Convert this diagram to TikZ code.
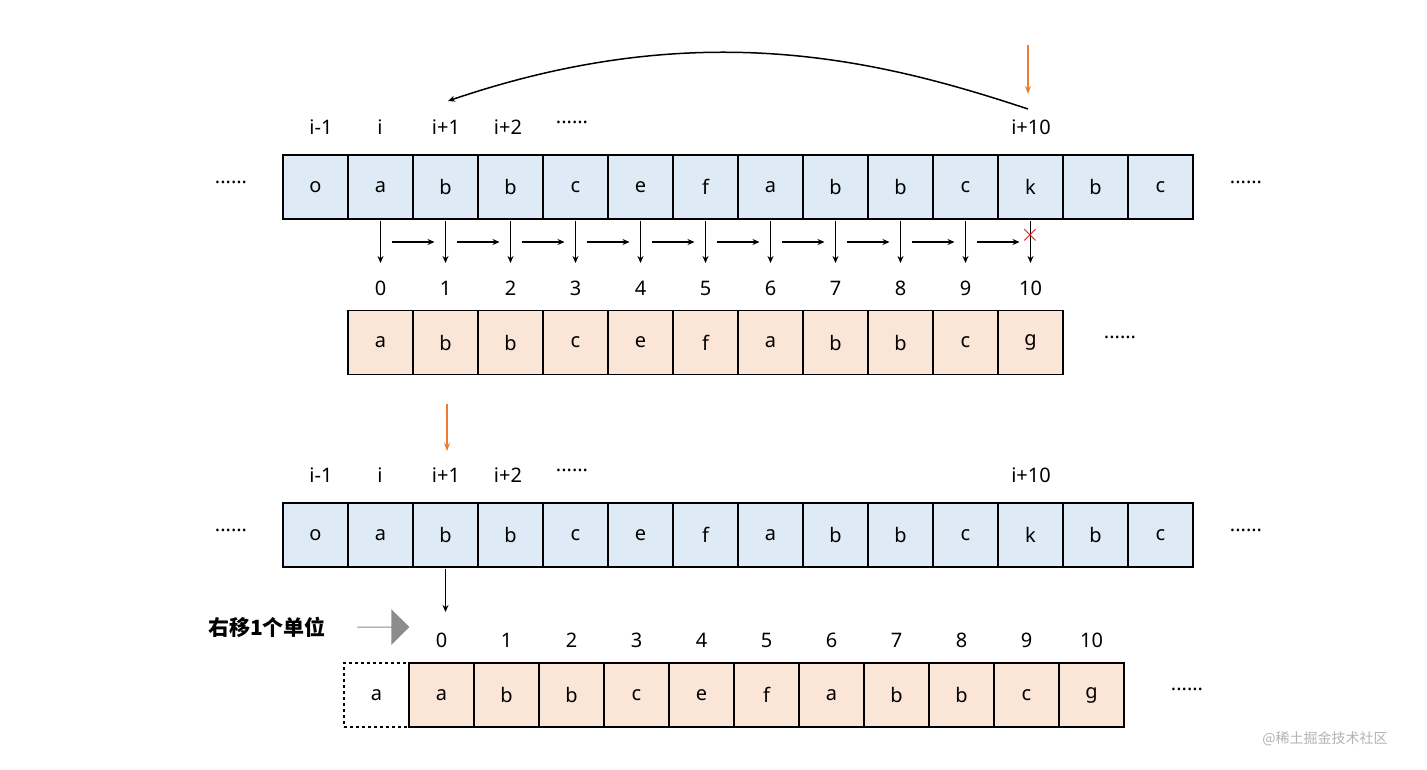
\documentclass[tikz,border=0pt]{standalone}
\usepackage{fontspec}
\setmainfont{Noto Sans}
\newfontfamily\cjk{Noto Sans CJK SC}
\usetikzlibrary{arrows.meta,shapes.arrows}
\definecolor{cblue}{HTML}{DEEBF7}
\definecolor{cpink}{HTML}{FBE5D6}
\definecolor{corange}{HTML}{ED7D31}
\tikzset{
 cell/.style={draw=black,line width=1.3pt,minimum width=65pt,minimum height=64pt,inner sep=0pt,font=\fontsize{20}{20}\selectfont},
 bcell/.style={cell,fill=cblue},
 pcell/.style={cell,fill=cpink},
 lbl/.style={font=\fontsize{20}{20}\selectfont,inner sep=0pt},
 dots/.style={font=\fontsize{20}{20}\selectfont\bfseries,inner sep=0pt},
 arr/.style={-{Stealth[length=7pt,width=6pt]},line width=1.2pt},
 oarr/.style={-{Stealth[length=8pt,width=6pt]},line width=1.2pt,draw=corange},
}
\begin{document}
\begin{tikzpicture}[x=1pt,y=-1pt]
\useasboundingbox (0,0) rectangle (1427,770);
% ---------- top section ----------
\foreach \c [count=\k from 0] in {o,a,b,b,c,e,f,a,b,b,c,k,b,c}
  \node[bcell] (t\k) at (315.5+65*\k,187) {\c};
\foreach \c [count=\k from 0] in {a,b,b,c,e,f,a,b,b,c,g}
  \node[pcell] (p\k) at (380.5+65*\k,342.5) {\c};
\node[dots] (dl1) at (231,182) {......};
\node[dots] (dr1) at (1246,182) {......};
\node[dots] (dp1) at (1120,337) {......};
\node[lbl] (l1) at (321,127) {i-1};
\node[lbl] (l2) at (380,127) {i};
\node[lbl] (l3) at (446,127) {i+1};
\node[lbl] (l4) at (508,127) {i+2};
\node[dots] (l5) at (572,122) {......};
\node[lbl] (l6) at (1031,127) {i+10};
\foreach \k in {0,...,10} {
  \node[lbl] (n\k) at (p\k.center |- 0,288) {\k};
  \coordinate (s\k) at ([yshift=-1pt]t\the\numexpr\k+1\relax.south);
  \coordinate (e\k) at (s\k |- 0,263);
  \draw[arr] (s\k) -- (e\k);
}
\foreach \k in {0,...,9} {
  \coordinate (h\k) at ([xshift=11pt]s\k |- 0,242);
  \coordinate (g\k) at ([xshift=54pt]s\k |- 0,242);
  \draw[arr] (h\k) -- (g\k);
}
\node[red,font=\fontsize{26}{26}\selectfont,inner sep=0pt] (x) at (1030,235) {$\times$};
\coordinate (cs) at (1028,109);
\coordinate (ce) at (448,101);
\draw[arr,line width=1.5pt] (cs) .. controls (880,60) and (700,15) .. (ce);
\coordinate (o1a) at (1028,45);
\coordinate (o1b) at (1028,94);
\draw[oarr] (o1a) -- (o1b);
% ---------- bottom section ----------
\foreach \c [count=\k from 0] in {o,a,b,b,c,e,f,a,b,b,c,k,b,c}
  \node[bcell] (u\k) at (315.5+65*\k,535) {\c};
\node[cell,dashed,fill=white] (q) at (376.5,695) {a};
\foreach \c [count=\k from 0] in {a,b,b,c,e,f,a,b,b,c,g}
  \node[pcell] (r\k) at (441.5+65*\k,695) {\c};
\node[dots] (dl2) at (231,530) {......};
\node[dots] (dr2) at (1246,530) {......};
\node[dots] (dp2) at (1187,689) {......};
\node[lbl] (m1) at (321,475) {i-1};
\node[lbl] (m2) at (380,475) {i};
\node[lbl] (m3) at (446,475) {i+1};
\node[lbl] (m4) at (508,475) {i+2};
\node[dots] (m5) at (572,470) {......};
\node[lbl] (m6) at (1031,475) {i+10};
\foreach \k in {0,...,10}
  \node[lbl] (w\k) at (r\k.center |- 0,640) {\k};
\coordinate (o2a) at (447,404);
\coordinate (o2b) at (447,451);
\draw[oarr] (o2a) -- (o2b);
\coordinate (dd) at (u2.south |- 0,612);
\draw[arr] ([yshift=-1pt]u2.south) -- (dd);
\node[font=\cjk\bfseries\fontsize{21}{21}\selectfont,inner sep=0pt] (txt) at (267,627) {右移1个单位};
\node[single arrow,fill=gray!90,draw=none,minimum height=52pt,minimum width=36pt,single arrow head extend=7pt,inner sep=0pt] (ga) at (383,627) {};
\node[font=\cjk\fontsize{14}{14}\selectfont,text=gray!60,inner sep=0pt] (wm) at (1325,739) {@稀土掘金技术社区};
\end{tikzpicture}
\end{document}
